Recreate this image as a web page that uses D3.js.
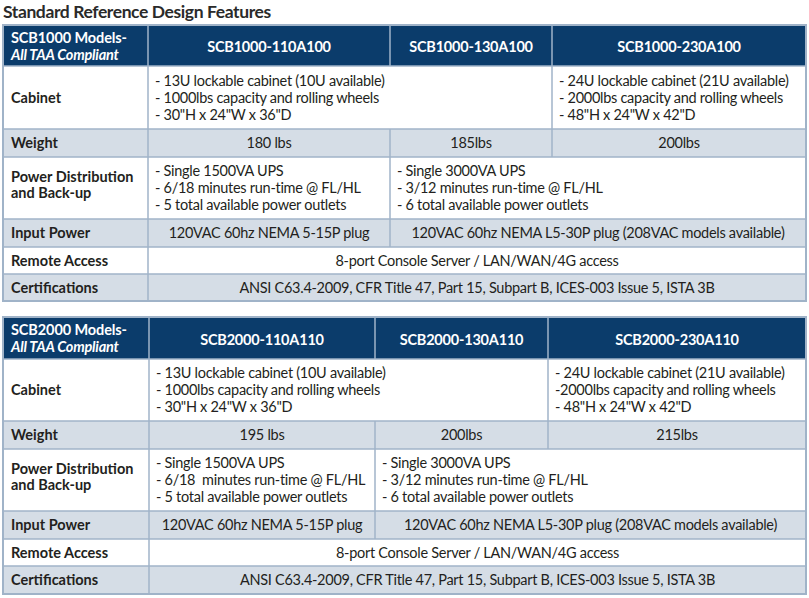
<!DOCTYPE html>
<html><head><meta charset="utf-8">
<script src="https://cdn.jsdelivr.net/npm/d3@7/dist/d3.min.js"></script>
<style>
html,body{margin:0;padding:0;background:#fff;}
svg{display:block;font-family:Lato,"Open Sans",sans-serif;}
</style></head><body>
<script>
// ---------- DATA ----------
const title = "Standard Reference Design Features";
const rowLabels = ["Cabinet","Weight","Power Distribution\nand Back-up","Input Power","Remote Access","Certifications"];
const shadedRows = [false,true,false,true,false,true];

const t1Header = ["SCB1000 Models-","All TAA Compliant"];
const t1Models = ["SCB1000-110A100","SCB1000-130A100","SCB1000-230A100"];
// each cell: [text, colspan, align]
const t1Cabinet = [["- 13U lockable cabinet (10U available)\n- 1000lbs capacity and rolling wheels\n- 30\"H x 24\"W x 36\"D",2,"left"],["- 24U lockable cabinet (21U available)\n- 2000lbs capacity and rolling wheels\n- 48\"H x 24\"W x 42\"D",1,"left"]];
const t1Weight = [["180 lbs",1,"center"],["185lbs",1,"center"],["200lbs",1,"center"]];
const t1Power = [["- Single 1500VA UPS\n- 6/18 minutes run-time @ FL/HL\n- 5 total available power outlets",1,"left"],["- Single 3000VA UPS\n- 3/12 minutes run-time @ FL/HL\n- 6 total available power outlets",2,"left"]];
const t1Input = [["120VAC 60hz NEMA 5-15P plug",1,"center"],["120VAC 60hz NEMA L5-30P plug (208VAC models available)",2,"center"]];
const t1Remote = [["8-port Console Server / LAN/WAN/4G access",3,"center"]];
const t1Cert = [["ANSI C63.4-2009, CFR Title 47, Part 15, Subpart B, ICES-003 Issue 5, ISTA 3B",3,"center"]];

const t2Header = ["SCB2000 Models-","All TAA Compliant"];
const t2Models = ["SCB2000-110A110","SCB2000-130A110","SCB2000-230A110"];
const t2Cabinet = [["- 13U lockable cabinet (10U available)\n- 1000lbs capacity and rolling wheels\n- 30\"H x 24\"W x 36\"D",2,"left"],["- 24U lockable cabinet (21U available)\n-2000lbs capacity and rolling wheels\n- 48\"H x 24\"W x 42\"D",1,"left"]];
const t2Weight = [["195 lbs",1,"center"],["200lbs",1,"center"],["215lbs",1,"center"]];
const t2Power = [["- Single 1500VA UPS\n- 6/18  minutes run-time @ FL/HL\n- 5 total available power outlets",1,"left"],["- Single 3000VA UPS\n- 3/12 minutes run-time @ FL/HL\n- 6 total available power outlets",2,"left"]];
const t2Input = [["120VAC 60hz NEMA 5-15P plug",1,"center"],["120VAC 60hz NEMA L5-30P plug (208VAC models available)",2,"center"]];
const t2Remote = [["8-port Console Server / LAN/WAN/4G access",3,"center"]];
const t2Cert = [["ANSI C63.4-2009, CFR Title 47, Part 15, Subpart B, ICES-003 Issue 5, ISTA 3B",3,"center"]];

// ---------- LAYOUT ----------
const W = 809, H = 598;
const C = {navy:"#0b3c6b", shade:"#d5dde6", border:"#a0b3c8", text:"#231f20"};
const FS = 14.5, LS = -0.28, LH = 17;
const tables = [
  {top:25, header:t1Header, models:t1Models, rows:[t1Cabinet,t1Weight,t1Power,t1Input,t1Remote,t1Cert],
   cols:[3,148,390,552,806], rowH:[41,63,28,62,28,27,27]},
  {top:317, header:t2Header, models:t2Models, rows:[t2Cabinet,t2Weight,t2Power,t2Input,t2Remote,t2Cert],
   cols:[3,149,375,548,806], rowH:[42,62,28,62,28,27,28]}
];

const svg = d3.select("body").append("svg").attr("width",W).attr("height",H);

svg.append("text").attr("x",3).attr("y",18).attr("font-size",17.5).attr("font-weight",700)
  .attr("letter-spacing",-0.4).attr("fill","#2a2a2a").text(title);

tables.forEach(t => {
  const g = svg.append("g");
  const yEdges = [t.top];
  t.rowH.forEach(h => yEdges.push(yEdges[yEdges.length-1]+h));
  const x = i => t.cols[i];

  // header row
  g.append("rect").attr("x",x(0)).attr("y",yEdges[0]).attr("width",x(4)-x(0)).attr("height",t.rowH[0]).attr("fill",C.navy);
  g.append("text").attr("x",x(0)+8).attr("y",yEdges[0]+18).attr("fill","#fff").attr("font-size",14.5).attr("font-weight",700).attr("letter-spacing",-0.1).text(t.header[0]);
  g.append("text").attr("x",x(0)+8).attr("y",yEdges[0]+35).attr("fill","#fff").attr("font-size",14.5).attr("font-weight",700).attr("font-style","italic").attr("letter-spacing",-0.2).text(t.header[1]);
  t.models.forEach((m,i) => {
    g.append("text").attr("x",(x(i+1)+x(i+2))/2).attr("y",yEdges[0]+t.rowH[0]/2+6.5).attr("text-anchor","middle")
      .attr("fill","#fff").attr("font-size",FS).attr("font-weight",700).attr("letter-spacing",-0.2).text(m);
  });

  // body rows
  t.rows.forEach((cells, r) => {
    const y0 = yEdges[r+1], h = t.rowH[r+1];
    g.append("rect").attr("x",x(0)).attr("y",y0).attr("width",x(4)-x(0)).attr("height",h)
      .attr("fill",shadedRows[r]?C.shade:"#fff");
    // label
    const lab = rowLabels[r].split("\n");
    const ly = y0 + h/2 + 5 - (lab.length-1)*LH/2 - (lab.length>1?3:0);
    lab.forEach((s,k) => g.append("text").attr("x",x(0)+8).attr("y",ly+k*16).attr("font-size",FS)
      .attr("font-weight",700).attr("fill",C.text).text(s));
    // cells
    let ci = 1;
    cells.forEach(([txt,span,align]) => {
      const xa = x(ci), xb = x(ci+span);
      const lines = txt.split("\n");
      const ty = y0 + h/2 + 5 - (lines.length-1)*LH/2;
      lines.forEach((s,k) => {
        g.append("text").attr("x", align==="left"? xa+7 : (xa+xb)/2).attr("y",ty+k*LH)
          .attr("text-anchor", align==="left"?"start":"middle").attr("font-size",FS).attr("letter-spacing",LS)
          .attr("fill",C.text).attr("xml:space","preserve").style("white-space","pre").text(s);
      });
      if (ci>1) g.append("line").attr("x1",xa).attr("x2",xa).attr("y1",y0).attr("y2",y0+h).attr("stroke",C.border).attr("stroke-width",1.5);
      ci += span;
    });
    g.append("line").attr("x1",x(1)).attr("x2",x(1)).attr("y1",y0).attr("y2",y0+h).attr("stroke",C.border).attr("stroke-width",1.5);
    g.append("line").attr("x1",x(0)).attr("x2",x(4)).attr("y1",y0).attr("y2",y0).attr("stroke",C.border).attr("stroke-width",1.5);
  });
  // header separators
  [1,2,3].forEach(i => g.append("line").attr("x1",x(i)).attr("x2",x(i)).attr("y1",yEdges[0]).attr("y2",yEdges[1]).attr("stroke",C.border).attr("stroke-width",1.5));
  // outer border
  g.append("rect").attr("x",x(0)).attr("y",yEdges[0]).attr("width",x(4)-x(0)).attr("height",yEdges[yEdges.length-1]-yEdges[0])
    .attr("fill","none").attr("stroke",C.border).attr("stroke-width",2);
});
</script>
</body></html>
